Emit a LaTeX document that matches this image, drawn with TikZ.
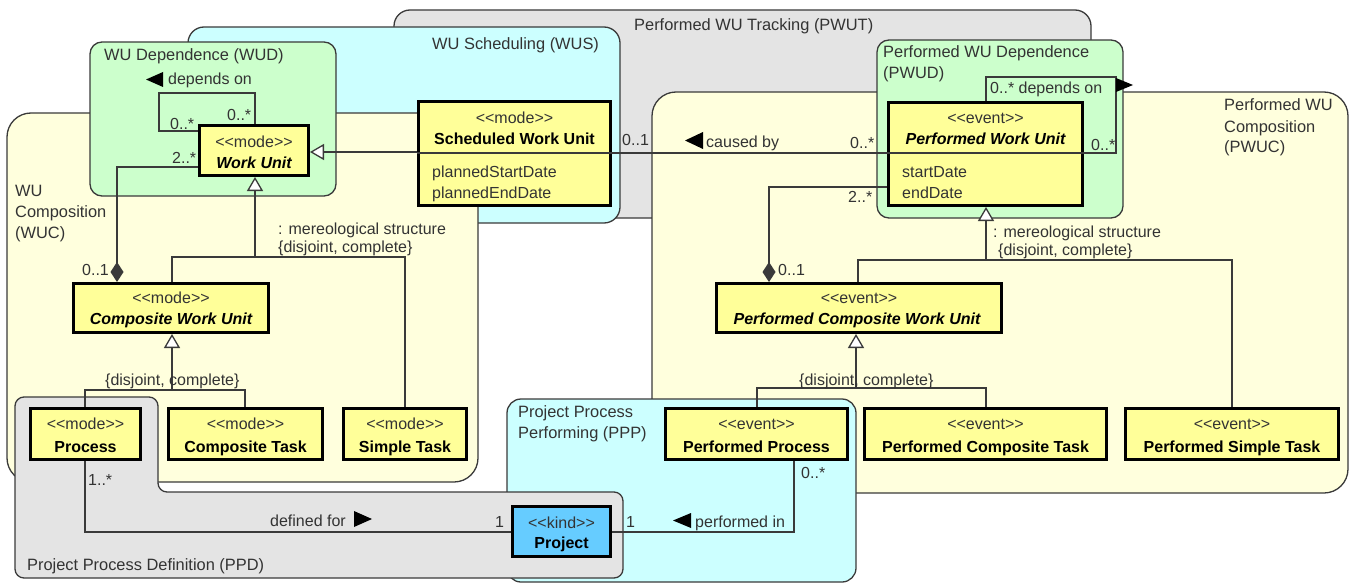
\documentclass[tikz,border=0pt]{standalone}
\usepackage{fontspec}
\setmainfont{Liberation Sans}
\usetikzlibrary{arrows.meta,fit}

\definecolor{trackfill}{HTML}{E4E4E4}
\definecolor{schedfill}{HTML}{CCFFFF}
\definecolor{depfill}{HTML}{CCFFCC}
\definecolor{compfill}{HTML}{FFFFDD}
\definecolor{classfill}{HTML}{FFFF99}
\definecolor{kindfill}{HTML}{66CCFF}
\definecolor{edge}{HTML}{3A3A3A}
\definecolor{ink}{HTML}{333333}

% stereotype guillemets written as two angle brackets
\newcommand\stype[1]{{<}{<}#1{>}{>}}

\begin{document}
\begin{tikzpicture}[x=1pt,y=-1pt,
  every node/.style={inner sep=0pt, font=\fontsize{16}{19}\selectfont},
  pkgline/.style={draw=edge, line width=1.3pt},
  conn/.style={draw=edge, line width=1.3pt},
  cls/.style={draw=black, line width=3pt, fill=classfill, inner sep=-1.5pt},
  kindcls/.style={cls, fill=kindfill},
  sepline/.style={draw=edge, line width=1.3pt},
  lbl/.style={anchor=base west, text=ink},
  pkgtitle/.style={anchor=base west, text=ink, font=\fontsize{16.4}{19}\selectfont},
  stt/.style={anchor=base, text=ink},
  cname/.style={anchor=base, text=black, font=\fontsize{16}{19}\selectfont\bfseries},
  cnamei/.style={anchor=base, text=black, font=\fontsize{16}{19}\selectfont\bfseries\itshape},
  gen/.style={conn, -{Triangle[length=14pt,width=16pt,fill=white]}},
  compo/.style={conn, -{Diamond[length=20pt,width=13pt]}},
  dirmark/.style={fill=black},
]
\useasboundingbox (0,0) rectangle (1351,583);

% ---------- packages ----------
\path[pkgline, fill=trackfill, rounded corners=16pt] (394,10) rectangle (1091,218);
\path[pkgline, fill=schedfill, rounded corners=16pt] (188,27) rectangle (620,223);
\path[pkgline, fill=compfill, rounded corners=24pt] (7,113) rectangle (478,482);
\path[pkgline, fill=depfill, rounded corners=12pt] (90,42) rectangle (336,196);
\path[pkgline, fill=compfill, rounded corners=24pt] (652,92) rectangle (1348,493);
\path[pkgline, fill=depfill, rounded corners=12pt] (877,40) rectangle (1123,218);
\path[pkgline, fill=schedfill, rounded corners=14pt] (507,399) rectangle (856,582);
\path[pkgline, fill=trackfill, rounded corners=9pt]
  (15,397) -- (158,397) -- (158,492) -- (623,492) -- (623,578) -- (15,578) -- cycle;

% package titles
\node[pkgtitle] (t-pwut) at (634,31) {Performed WU Tracking (PWUT)};
\node[pkgtitle] (t-wus) at (432,50) {WU Scheduling (WUS)};
\node[pkgtitle] (t-wud) at (104,61) {WU Dependence (WUD)};
\node[pkgtitle] (t-wuc1) at (15,196) {WU};
\node[pkgtitle] (t-wuc2) at (15,217) {Composition};
\node[pkgtitle] (t-wuc3) at (15,238) {(WUC)};
\node[pkgtitle] (t-pwud1) at (883,58) {Performed WU Dependence};
\node[pkgtitle] (t-pwud2) at (883,79) {(PWUD)};
\node[pkgtitle] (t-pwuc1) at (1224,111) {Performed WU};
\node[pkgtitle] (t-pwuc2) at (1224,132) {Composition};
\node[pkgtitle] (t-pwuc3) at (1224,153) {(PWUC)};
\node[pkgtitle] (t-ppp1) at (518,417) {Project Process};
\node[pkgtitle] (t-ppp2) at (518,438) {Performing (PPP)};
\node[pkgtitle] (t-ppd) at (27,570) {Project Process Definition (PPD)};

% ---------- class boxes (outer edges) ----------
\node[cls, fit={(198,124) (310,177)}] (wu) {};
\node[cls, fit={(417,100) (612,207)}] (swu) {};
\node[cls, fit={(887,101) (1084,207)}] (pwu) {};
\node[cls, fit={(72,282) (270,334)}] (cwu) {};
\node[cls, fit={(29,407) (142,461)}] (proc) {};
\node[cls, fit={(167,407) (324,461)}] (ctask) {};
\node[cls, fit={(342,407) (468,461)}] (stask) {};
\node[cls, fit={(715,282) (1003,334)}] (pcwu) {};
\node[cls, fit={(664,407) (849,461)}] (pproc) {};
\node[cls, fit={(863,407) (1108,461)}] (pctask) {};
\node[cls, fit={(1124,407) (1340,461)}] (pstask) {};
\node[kindcls, fit={(511,505) (612,558)}] (proj) {};

% ---------- connectors ----------
% WU Dependence: reflexive "depends on"
\draw[conn] (wu.west |- 0,131) -| (159,93) -| (wu.north -| 255,0);
% Work Unit parts of Composite Work Unit
\draw[compo] (wu.west |- 0,167) -| (cwu.north -| 117,0);
% mereological structure of Work Unit
\draw[conn] (cwu.north -| 172,0) |- (405,257) -- (stask.north -| 405,0);
\draw[gen] (255,257) -- (wu.south -| 255,0);
% subtypes of Composite Work Unit
\draw[conn] (proc.north -| 85,0) |- (245,390) -- (ctask.north -| 245,0);
\draw[gen] (172,390) -- (cwu.south -| 172,0);
% Scheduled Work Unit specialises Work Unit
\draw[gen] (swu.west |- 0,152) -- (wu.east |- 0,152);
% caused by
\draw[conn] (swu.east |- 0,153) -- (pwu.west |- 0,153);
% Performed WU Dependence: reflexive "depends on"
\draw[conn] (pwu.east |- 0,153) -| (1116,77) -| (pwu.north -| 986,0);
% Performed Work Unit parts of Performed Composite Work Unit
\draw[compo] (pwu.west |- 0,187) -| (pcwu.north -| 769,0);
% mereological structure of Performed Work Unit
\draw[conn] (pcwu.north -| 858,0) |- (1232,260) -- (pstask.north -| 1232,0);
\draw[gen] (986,260) -- (pwu.south -| 986,0);
% subtypes of Performed Composite Work Unit
\draw[conn] (pproc.north -| 757,0) |- (986,388) -- (pctask.north -| 986,0);
\draw[gen] (856,388) -- (pcwu.south -| 856,0);
% defined for / performed in
\draw[conn] (proc.south -| 85,0) |- (proj.west |- 0,532);
\draw[conn] (pproc.south -| 794,0) |- (proj.east |- 0,532);

% compartment separators
\draw[sepline] (swu.west |- 0,153) -- (swu.east |- 0,153);
\draw[sepline] (pwu.west |- 0,153) -- (pwu.east |- 0,153);

% ---------- class texts ----------
\node[stt] (wu-s) at (254,147) {\stype{mode}};
\node[cnamei] (wu-n) at (254,168) {Work Unit};
\node[stt] (swu-s) at (514.5,124) {\stype{mode}};
\node[cname] (swu-n) at (514.5,144) {Scheduled Work Unit};
\node[lbl] (swu-a1) at (432,177) {plannedStartDate};
\node[lbl] (swu-a2) at (432,198) {plannedEndDate};
\node[stt] (pwu-s) at (985.5,124) {\stype{event}};
\node[cnamei] (pwu-n) at (985.5,144) {Performed Work Unit};
\node[lbl] (pwu-a1) at (902,177) {startDate};
\node[lbl] (pwu-a2) at (902,198) {endDate};
\node[stt] (cwu-s) at (171,303) {\stype{mode}};
\node[cnamei] (cwu-n) at (171,324) {Composite Work Unit};
\node[stt] (proc-s) at (85.5,429) {\stype{mode}};
\node[cname] (proc-n) at (85.5,452) {Process};
\node[stt] (ctask-s) at (245.5,429) {\stype{mode}};
\node[cname] (ctask-n) at (245.5,452) {Composite Task};
\node[stt] (stask-s) at (405,429) {\stype{mode}};
\node[cname] (stask-n) at (405,452) {Simple Task};
\node[stt] (pcwu-s) at (859,303) {\stype{event}};
\node[cnamei] (pcwu-n) at (857,324) {Performed Composite Work Unit};
\node[stt] (pproc-s) at (756.5,429) {\stype{event}};
\node[cname] (pproc-n) at (756.5,452) {Performed Process};
\node[stt] (pctask-s) at (985.5,429) {\stype{event}};
\node[cname] (pctask-n) at (985.5,452) {Performed Composite Task};
\node[stt] (pstask-s) at (1232,429) {\stype{event}};
\node[cname] (pstask-n) at (1232,452) {Performed Simple Task};
\node[stt] (proj-s) at (561.5,528) {\stype{kind}};
\node[cname] (proj-n) at (561.5,548) {Project};

% ---------- connector labels ----------
\node[lbl] (m-dep1) at (170,130) {0..*};
\node[lbl] (m-dep2) at (227,121) {0..*};
\node[lbl] (n-dep) at (168,85) {depends on};
\node[lbl] (m-part) at (172,163) {2..*};
\node[lbl] (m-whole) at (82,275) {0..1};
\node[lbl] (g-wu1) at (278,234) {: mereological structure};
\node[lbl] (g-wu2) at (278,252) {\{disjoint, complete\}};
\node[lbl] (g-cwu) at (105,385) {\{disjoint, complete\}};
\node[lbl] (m-cb1) at (622,145) {0..1};
\node[lbl] (n-cb) at (706,147) {caused by};
\node[lbl] (m-cb2) at (850,148) {0..*};
\node[lbl] (n-pdep) at (990,94) {0..* depends on};
\node[lbl] (m-pdep) at (1091,150) {0..*};
\node[lbl] (m-ppart) at (848,202) {2..*};
\node[lbl] (m-pwhole) at (778,275) {0..1};
\node[lbl] (g-pwu1) at (993,237) {: mereological structure};
\node[lbl] (g-pwu2) at (998,255) {\{disjoint, complete\}};
\node[lbl] (g-pcwu) at (799,385) {\{disjoint, complete\}};
\node[lbl] (m-df1) at (88,485) {1..*};
\node[lbl] (n-df) at (270,526) {defined for};
\node[lbl] (m-df2) at (495,527) {1};
\node[lbl] (m-pi1) at (626,527) {1};
\node[lbl] (n-pi) at (695,527) {performed in};
\node[lbl] (m-pi2) at (801,478) {0..*};

% reading-direction marks
\fill[dirmark] (146,79.5) -- (163,72) -- (163,87) -- cycle;
\fill[dirmark] (685,140.5) -- (703,132) -- (703,149) -- cycle;
\fill[dirmark] (1116,78) -- (1133,85) -- (1116,92) -- cycle;
\fill[dirmark] (354,511) -- (372,519) -- (354,527) -- cycle;
\fill[dirmark] (673,520.5) -- (691,513) -- (691,528) -- cycle;
\end{tikzpicture}
\end{document}
